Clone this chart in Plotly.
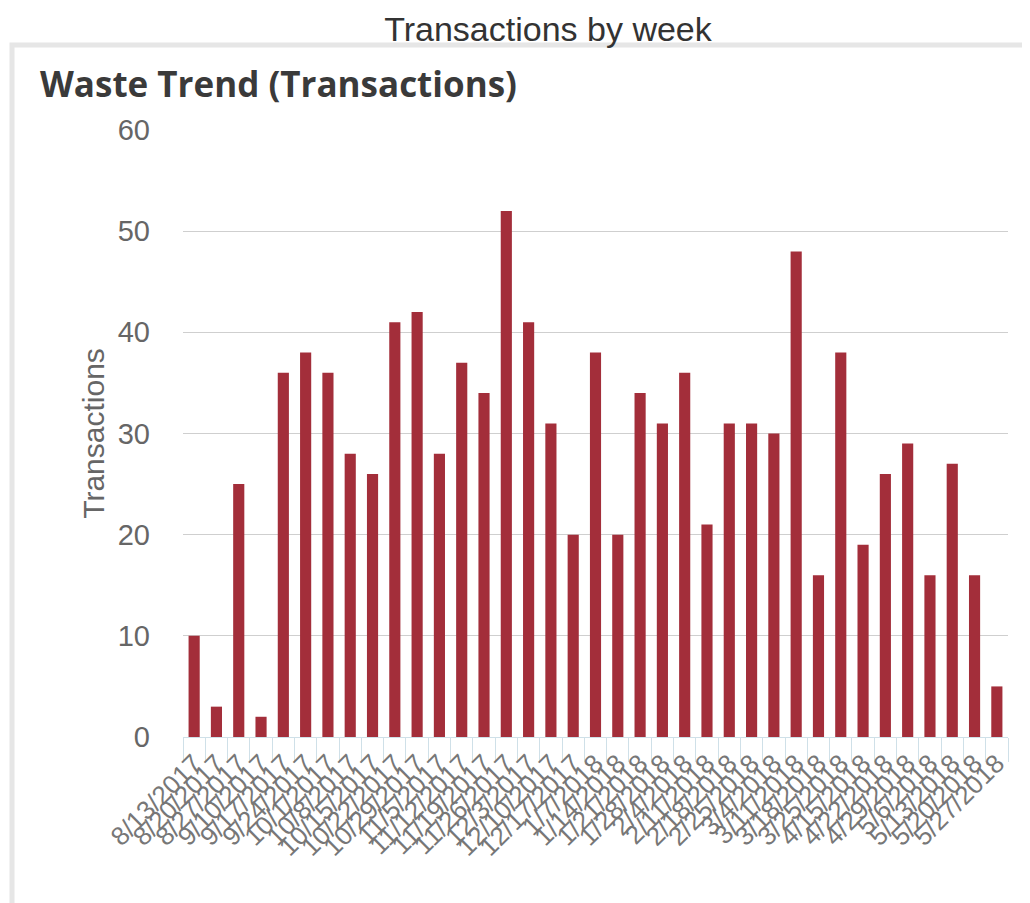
import plotly.graph_objects as go

weeks = ["8/13/2017", "8/20/2017", "8/27/2017", "9/10/2017", "9/17/2017", "9/24/2017",
         "10/1/2017", "10/8/2017", "10/15/2017", "10/22/2017", "10/29/2017", "11/5/2017",
         "11/12/2017", "11/19/2017", "11/26/2017", "12/3/2017", "12/10/2017", "12/17/2017",
         "1/7/2018", "1/14/2018", "1/21/2018", "1/28/2018", "2/4/2018", "2/11/2018",
         "2/18/2018", "2/25/2018", "3/4/2018", "3/11/2018", "3/18/2018", "3/25/2018",
         "4/15/2018", "4/22/2018", "4/29/2018", "5/6/2018", "5/13/2018", "5/20/2018",
         "5/27/2018"]
transactions = [10, 3, 25, 2, 36, 38, 36, 28, 26, 41, 42, 28, 37, 34, 52, 41, 31, 20, 38,
                20, 34, 31, 36, 21, 31, 31, 30, 48, 16, 38, 19, 26, 29, 16, 27, 16, 5]
y_ticks = [0, 10, 20, 30, 40, 50, 60]

OFF = 8  # page body margin
W, H = 1030, 903
L, T = 183 - OFF, 130 - OFF
R = W - (1008 - OFF)
B = H - (737 - OFF)
PW, PH = W - L - R, H - T - B

def px_x(p):
    return (p - OFF - L) / PW

def px_y(p):
    return (H - B - (p - OFF)) / PH

fig = go.Figure(go.Bar(
    x=weeks, y=transactions,
    marker=dict(color="#a32e3a", line=dict(width=0)),
))

fig.update_layout(
    width=W, height=H,
    margin=dict(l=L, r=R, t=T, b=B, autoexpand=False),
    paper_bgcolor="white", plot_bgcolor="white",
    bargap=0.5,
    showlegend=False,
    title=dict(text="Transactions by week", x=(548 - OFF) / W, xanchor="center",
               y=1 - (29 - OFF) / H, yanchor="middle",
               font=dict(family="Liberation Sans, Arial", size=34, color="#333333")),
    font=dict(family="Liberation Sans, Arial"),
)

fig.update_yaxes(
    range=[0, 60], tickvals=y_ticks,
    showgrid=True, gridcolor="#cfcfcf", gridwidth=1,
    zeroline=False, showline=False,
    tickfont=dict(size=29, color="#666666"),
    ticklabelstandoff=32,
    title=dict(text="Transactions", font=dict(size=30, color="#666666"), standoff=4),
)
fig.update_xaxes(
    type="category", dtick=1, tickangle=-45,
    tickfont=dict(size=26, color="#777777"),
    ticks="outside", ticklen=24, tickcolor="#cfe0e8", tickson="boundaries",
    showline=True, linecolor="#cfe0e8", linewidth=1,
    showgrid=False,
)

# panel border (screenshot-like frame)
fig.add_shape(type="rect", xref="paper", yref="paper",
              x0=px_x(12), x1=px_x(1045), y0=px_y(915), y1=px_y(45),
              line=dict(color="#e6e6e6", width=5), fillcolor="rgba(0,0,0,0)", layer="below")

fig.add_annotation(text="<b>Waste Trend (Transactions)</b>", xref="paper", yref="paper",
                   x=px_x(38), y=px_y(83), xanchor="left", yanchor="middle",
                   showarrow=False,
                   font=dict(family="Open Sans, DejaVu Sans", size=35, color="#3a3a3a"))

fig.write_html("out.html")
